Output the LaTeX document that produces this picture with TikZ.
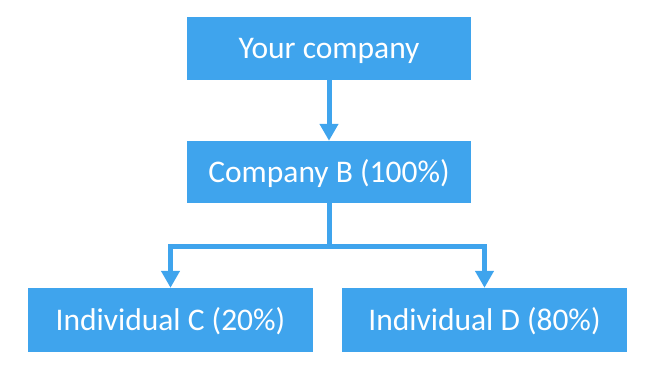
\documentclass[tikz,border=0pt]{standalone}
\usepackage{fontspec}
\setmainfont{Carlito}
\usepackage{xcolor}
\usetikzlibrary{arrows.meta}
\definecolor{boxblue}{RGB}{63,164,237}

\tikzset{
    orgbox/.style={fill=boxblue, text=white, inner sep=0pt,
        text height=20pt, text depth=0pt,
        minimum width=284pt, minimum height=63pt, font=\fontsize{31.5}{38}\selectfont},
    link/.style={draw=boxblue, line width=5pt},
    linkarrow/.style={link, -{Triangle[width=18pt,length=17pt]}}
}

\begin{document}
\begin{tikzpicture}[x=1pt, y=-1pt]
        \useasboundingbox (0,0) rectangle (646,378);

        % Owner and first holding
        \node[orgbox] (yours) at (329,48.5) {Your company};
        \node[orgbox, minimum height=62pt] (compb) at (329,172) {Company B (100\%)};

        % Individual shareholders
        \node[orgbox, minimum width=285pt, minimum height=64pt] (indc) at (170.5,320) {Individual C (20\%)};
        \node[orgbox, minimum width=285pt, minimum height=64pt] (indd) at (484.5,320) {Individual D (80\%)};

        % Connectors
        \coordinate (split) at (329,246);
        \draw[linkarrow] (yours.south) -- (compb.north);
        \draw[link] (compb.south) -- (split);
        \draw[linkarrow] (split) -| (indc.north);
        \draw[linkarrow] (split) -| (indd.north);
    \end{tikzpicture}
\end{document}
